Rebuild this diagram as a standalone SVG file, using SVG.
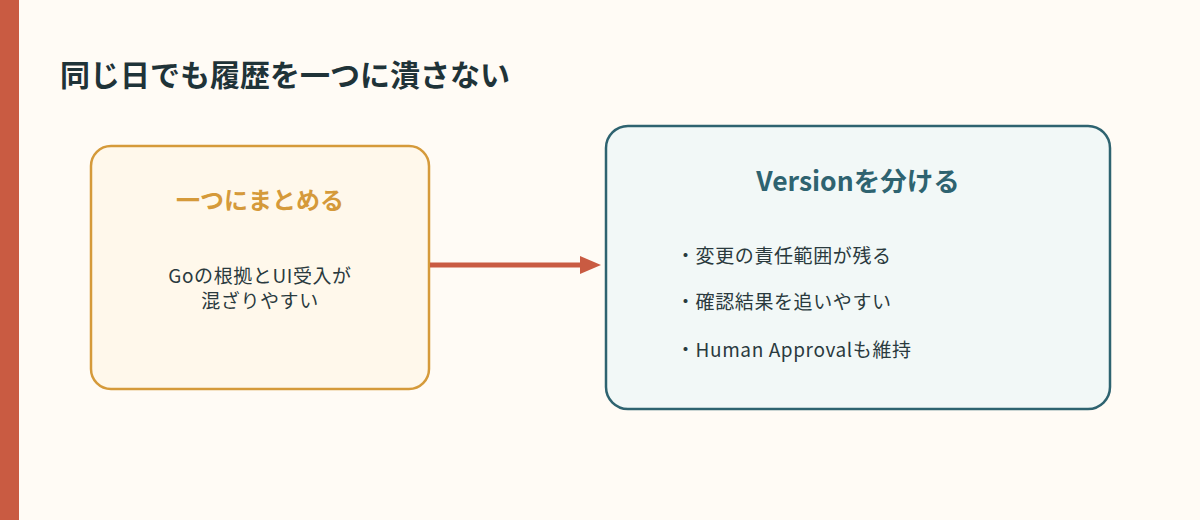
<svg xmlns="http://www.w3.org/2000/svg" width="1200" height="520" viewBox="0 0 1200 520">
<style>
text{font-family:"Noto Sans CJK JP","Noto Sans",sans-serif}
.t{font-size:30px;font-weight:bold;fill:#1f3338}
.h{font-size:24px;font-weight:bold;text-anchor:middle}
.b{font-size:19px;fill:#2a3a3e;letter-spacing:0.6px}
</style>
<defs><marker id="ah" markerWidth="22" markerHeight="20" refX="0" refY="10" orient="auto" markerUnits="userSpaceOnUse"><path d="M0,1 L21,10 L0,19 Z" fill="#c95b42"/></marker></defs>
<rect width="1200" height="520" fill="#fffbf5"/>
<rect width="19" height="520" fill="#c95b42"/>
<text class="t" x="60" y="86">同じ日でも履歴を一つに潰さない</text>
<g id="left"><rect x="91" y="146" width="338" height="243" rx="20" fill="#fff8eb" stroke="#d59a3a" stroke-width="2.5"/>
<text class="h" x="260" y="209" fill="#d59a3a">一つにまとめる</text>
<text class="b" x="260" y="283" text-anchor="middle">Goの根拠とUI受入が</text>
<text class="b" x="260" y="308" text-anchor="middle">混ざりやすい</text></g>
<g id="right"><rect x="606" y="126" width="504" height="283" rx="22" fill="#f2f8f7" stroke="#2e6370" stroke-width="2.5"/>
<text class="h" x="858" y="191" fill="#2e6370" style="font-size:26.5px">Versionを分ける</text>
<text class="b" x="676" y="263">・変更の責任範囲が残る</text>
<text class="b" x="676" y="309">・確認結果を追いやすい</text>
<text class="b" x="676" y="357">・Human Approvalも維持</text></g>
<g id="connectors"><line x1="430" y1="265" x2="580" y2="265" stroke="#c95b42" stroke-width="5" marker-end="url(#ah)"/></g>
</svg>
